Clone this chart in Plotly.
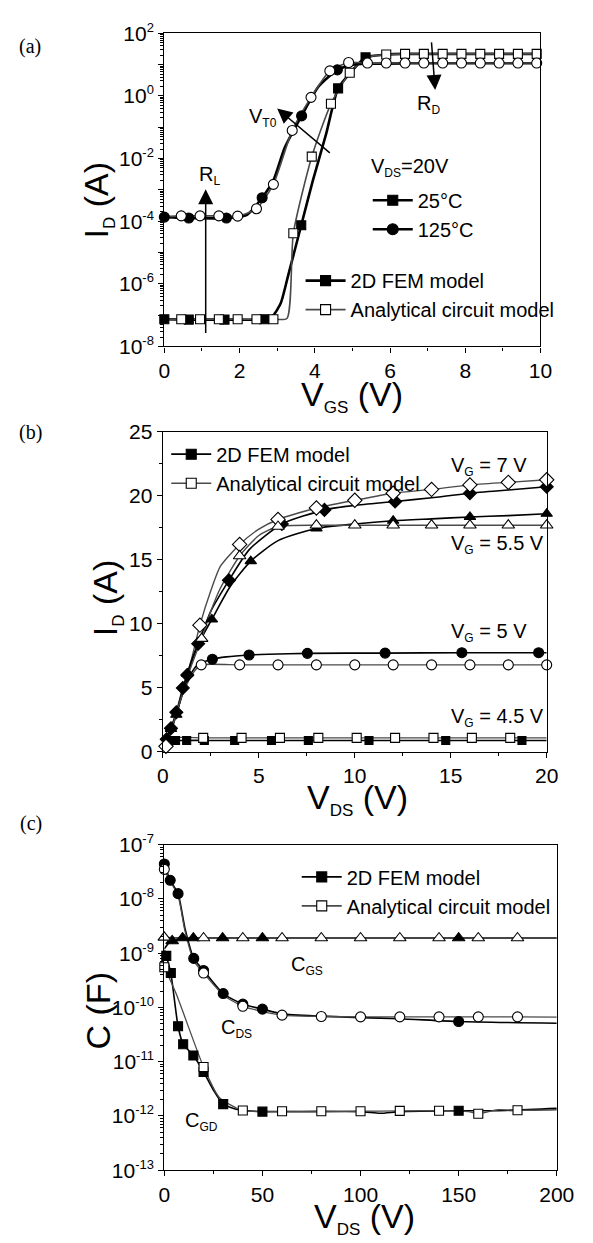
import plotly.graph_objects as go

W, H = 593, 1243
SANS = "Liberation Sans, Arial, Helvetica, sans-serif"
SERIF = "Liberation Serif, Times New Roman, serif"

# ---------------- Panel (a): I_D vs V_GS (V_DS = 20 V) ----------------
a_fem25_x = [0, 0.65, 1.6, 2.65, 2.9, 3.1, 3.3, 3.64, 3.95, 4.3, 4.62, 5.0, 5.35, 5.9, 6.4, 7.4, 8.4, 9.4, 10]
a_fem25_y = [7.4e-8, 7.2e-8, 7.2e-8, 7.4e-8, 1.0e-7, 2.5e-7, 2.0e-6, 7.4e-5, 2.0e-3, 6.0e-2, 1.74, 6.5, 17, 21, 22, 22, 22, 22, 22]
a_fem25_marks = [0, 1, 2, 3, 7, 10, 12]

a_ana25_x = [0, 0.45, 0.95, 1.45, 1.95, 2.45, 2.9, 3.26, 3.43, 3.92, 4.43, 4.93, 5.4, 5.9, 6.4, 6.9, 7.4, 7.9, 8.4, 8.9, 9.4, 9.9, 10]
a_ana25_y = [7.4e-8, 7.4e-8, 7.4e-8, 7.4e-8, 7.4e-8, 7.4e-8, 7.4e-8, 7.8e-8, 4.1e-5, 1.15e-2, 0.56, 5.5, 17, 21, 22, 22, 22, 22, 22, 22, 22, 22, 22]
a_ana25_marks = [1, 2, 3, 4, 5, 6, 8, 9, 10, 11, 13, 14, 15, 16, 17, 18, 19, 20, 21]

a_fem125_x = [0, 0.65, 1.65, 2.2, 2.6, 2.9, 3.2, 3.65, 4.1, 4.6, 5.0, 5.4, 6.4, 7.4, 8.4, 9.4, 10]
a_fem125_y = [1.35e-4, 1.26e-4, 1.26e-4, 1.6e-4, 5.6e-4, 2.0e-3, 2.2e-2, 0.23, 2.0, 6.8, 10, 10.7, 11, 11, 11, 11, 11]
a_fem125_marks = [0, 1, 2, 4, 7, 9]

a_ana125_x = [0, 0.45, 0.95, 1.45, 1.95, 2.45, 2.9, 3.4, 3.9, 4.4, 4.9, 5.4, 5.9, 6.4, 6.9, 7.4, 7.9, 8.4, 8.9, 9.4, 9.9, 10]
a_ana125_y = [1.4e-4, 1.48e-4, 1.48e-4, 1.48e-4, 1.45e-4, 2.5e-4, 1.5e-3, 7.9e-2, 0.9, 6.3, 11.7, 11.2, 11.2, 11.2, 11.2, 11.2, 11.2, 11.2, 11.2, 11.2, 11.2, 11.2]
a_ana125_marks = [1, 2, 3, 4, 5, 6, 7, 8, 9, 10, 11, 12, 13, 14, 15, 16, 17, 18, 19, 20]

a_ytick_vals = [1e-8, 1e-7, 1e-6, 1e-5, 1e-4, 1e-3, 1e-2, 1e-1, 1e0, 1e1, 1e2]
a_ytick_exp = ["-8", "", "-6", "", "-4", "", "-2", "", "0", "", "2"]

# ---------------- Panel (b): I_D vs V_DS ----------------
b7_fem_x = [0, 0.2, 0.42, 0.7, 1.04, 1.27, 1.84, 2.5, 3.44, 4.5, 6.2, 8.42, 10, 12.1, 14, 16, 18, 20]
b7_fem_y = [0.3, 1.0, 1.85, 3.1, 5.0, 6.0, 8.45, 11.0, 13.4, 15.8, 17.8, 18.9, 19.25, 19.55, 19.85, 20.2, 20.45, 20.7]
b7_fem_marks = [1, 2, 3, 4, 5, 6, 8, 10, 11, 13, 15, 17]

b7_ana_x = [0.16, 0.5, 1.0, 1.5, 1.93, 2.5, 3.0, 4.0, 5.0, 6.0, 8.0, 10, 12, 14, 16, 18, 20]
b7_ana_y = [0.44, 1.9, 4.6, 7.3, 9.9, 12.6, 14.5, 16.2, 17.4, 18.15, 19.05, 19.65, 20.2, 20.5, 20.85, 21.05, 21.25]
b7_ana_marks = [0, 4, 7, 9, 10, 11, 12, 13, 14, 15, 16]

b55_fem_x = [0, 0.2, 0.42, 0.7, 1.27, 1.8, 2.55, 3.5, 4.58, 6.0, 8.0, 10, 12, 14, 16, 18, 20]
b55_fem_y = [0.3, 0.95, 1.8, 2.9, 6.1, 8.3, 10.35, 12.9, 14.9, 16.5, 17.45, 17.8, 18.05, 18.2, 18.35, 18.45, 18.6]
b55_fem_marks = [2, 3, 4, 6, 8, 10, 12, 14, 16]

b55_ana_x = [0.16, 0.5, 1.0, 1.5, 2.02, 2.5, 3.0, 4.0, 5.0, 6.0, 8, 10, 12, 14, 16, 18, 20]
b55_ana_y = [0.3, 1.9, 4.4, 6.8, 8.85, 11.0, 12.8, 15.3, 16.9, 17.6, 17.7, 17.7, 17.7, 17.7, 17.7, 17.7, 17.7]
b55_ana_marks = [4, 7, 9, 10, 11, 12, 13, 14, 15, 16]

b5_fem_x = [0, 0.3, 0.7, 1.27, 1.8, 2.58, 3.3, 4.49, 5.5, 7.53, 11.58, 15.58, 19.58, 20]
b5_fem_y = [0.3, 1.3, 3.0, 5.6, 6.8, 7.24, 7.42, 7.57, 7.63, 7.7, 7.72, 7.75, 7.75, 7.75]
b5_fem_marks = [5, 7, 9, 10, 11, 12]

b5_ana_x = [0.16, 0.5, 1.0, 1.5, 1.75, 2.0, 4, 6, 8, 10, 12, 14, 16, 18, 20]
b5_ana_y = [0.3, 2.0, 4.4, 6.0, 6.5, 6.8, 6.8, 6.8, 6.8, 6.8, 6.8, 6.8, 6.8, 6.8, 6.8]
b5_ana_marks = [5, 6, 7, 8, 9, 10, 11, 12, 13, 14]

b45_fem_x = [0, 0.15, 0.33, 0.66, 1.24, 2.16, 3.74, 5.66, 7.58, 10.74, 14.74, 18.71, 20]
b45_fem_y = [0.3, 0.7, 0.88, 0.89, 0.9, 0.9, 0.9, 0.9, 0.9, 0.9, 0.9, 0.9, 0.9]
b45_fem_marks = [2, 3, 4, 5, 6, 7, 8, 9, 10, 11]

b45_ana_x = [0.16, 0.3, 0.5, 2.1, 4.1, 6.1, 8.1, 10.1, 12.1, 14.1, 16.1, 18.1, 20]
b45_ana_y = [0.3, 0.8, 1.1, 1.1, 1.1, 1.1, 1.1, 1.1, 1.1, 1.1, 1.1, 1.1, 1.1]
b45_ana_marks = [3, 4, 5, 6, 7, 8, 9, 10, 11]

# ---------------- Panel (c): capacitances vs V_DS ----------------
c_gs_fem_x = [0, 2, 4, 6, 9.3, 14.8, 29.7, 50, 150, 200]
c_gs_fem_y = [1.2e-9, 1.5e-9, 1.68e-9, 1.8e-9, 1.9e-9, 1.9e-9, 1.9e-9, 1.9e-9, 1.9e-9, 1.9e-9]
c_gs_fem_marks = [2, 4, 5, 6, 7, 8]

c_gs_ana_x = [0, 20, 40, 60, 80, 100, 120, 140, 160, 180, 200]
c_gs_ana_y = [1.95e-9, 1.9e-9, 1.9e-9, 1.9e-9, 1.9e-9, 1.9e-9, 1.9e-9, 1.9e-9, 1.9e-9, 1.9e-9, 1.9e-9]
c_gs_ana_marks = [0, 1, 2, 3, 4, 5, 6, 7, 8, 9]

c_ds_fem_x = [0, 3, 7, 10.5, 15, 20, 30, 40, 50, 60, 80, 100, 120, 150, 200]
c_ds_fem_y = [4.4e-8, 2.2e-8, 1.25e-8, 2.9e-9, 8.0e-10, 4.8e-10, 1.8e-10, 1.15e-10, 9.3e-11, 7.6e-11, 6.9e-11, 6.5e-11, 6.2e-11, 5.5e-11, 5.1e-11]
c_ds_fem_marks = [0, 1, 2, 4, 5, 6, 7, 8, 13]

c_ds_ana_x = [0, 3, 7, 10.5, 15, 20, 30, 40, 60, 80, 100, 120, 140, 160, 180, 200]
c_ds_ana_y = [3.5e-8, 2.1e-8, 1.15e-8, 2.6e-9, 7.2e-10, 4.3e-10, 1.7e-10, 1.05e-10, 7.2e-11, 6.8e-11, 6.7e-11, 6.7e-11, 6.7e-11, 6.7e-11, 6.7e-11, 6.6e-11]
c_ds_ana_marks = [0, 5, 7, 8, 9, 10, 11, 12, 13, 14]

c_gd_fem_x = [0, 1, 3.3, 7, 9.6, 14.8, 20, 25, 30, 38, 50, 100, 110, 120, 150, 170, 200]
c_gd_fem_y = [1.15e-9, 8.9e-10, 4.3e-10, 4.5e-11, 2.1e-11, 1.3e-11, 6.5e-12, 3.0e-12, 1.65e-12, 1.3e-12, 1.2e-12, 1.2e-12, 1.12e-12, 1.2e-12, 1.25e-12, 1.25e-12, 1.38e-12]
c_gd_fem_marks = [1, 2, 3, 4, 5, 6, 8, 10, 14]

c_gd_ana_x = [0, 6, 20, 28, 40, 60, 80, 100, 120, 140, 155, 160, 170, 180, 200]
c_gd_ana_y = [5.5e-10, 1.8e-10, 8.0e-12, 2.2e-12, 1.26e-12, 1.22e-12, 1.22e-12, 1.22e-12, 1.24e-12, 1.25e-12, 1.2e-12, 1.1e-12, 1.3e-12, 1.27e-12, 1.3e-12]
c_gd_ana_marks = [0, 2, 4, 5, 6, 7, 8, 9, 11, 13]

c_ytick_vals = [1e-13, 1e-12, 1e-11, 1e-10, 1e-9, 1e-8, 1e-7]
c_ytick_exp = ["-13", "-12", "-11", "-10", "-9", "-8", "-7"]

# ---------------- helpers ----------------
def fx(p):
    return p / W


def fy(p):
    return 1 - p / H


def pow_label(e):
    if e == "":
        return ""
    return "10<sup><span style='font-size:13px'>%s</span></sup>" % e


fig = go.Figure()

FEM_COLOR = "black"
ANA_COLOR = "#4a4a4a"

series = [
    # (x, y, marks, axis suffix, symbol, filled, line width, marker size)
    (a_fem25_x, a_fem25_y, a_fem25_marks, "", "square", True, 2.6, 9),
    (a_ana25_x, a_ana25_y, a_ana25_marks, "", "square", False, 1.6, 9),
    (a_fem125_x, a_fem125_y, a_fem125_marks, "", "circle", True, 2.6, 10),
    (a_ana125_x, a_ana125_y, a_ana125_marks, "", "circle", False, 1.6, 10),
    (b7_fem_x, b7_fem_y, b7_fem_marks, "2", "diamond", True, 1.6, 10),
    (b7_ana_x, b7_ana_y, b7_ana_marks, "2", "diamond", False, 1.4, 11),
    (b55_fem_x, b55_fem_y, b55_fem_marks, "2", "triangle-up", True, 1.6, 10),
    (b55_ana_x, b55_ana_y, b55_ana_marks, "2", "triangle-up", False, 1.4, 11),
    (b5_fem_x, b5_fem_y, b5_fem_marks, "2", "circle", True, 1.6, 10),
    (b5_ana_x, b5_ana_y, b5_ana_marks, "2", "circle", False, 1.4, 10),
    (b45_fem_x, b45_fem_y, b45_fem_marks, "2", "square", True, 1.6, 8),
    (b45_ana_x, b45_ana_y, b45_ana_marks, "2", "square", False, 1.4, 9),
    (c_gs_fem_x, c_gs_fem_y, c_gs_fem_marks, "3", "triangle-up", True, 1.6, 11),
    (c_gs_ana_x, c_gs_ana_y, c_gs_ana_marks, "3", "triangle-up", False, 1.3, 11),
    (c_ds_fem_x, c_ds_fem_y, c_ds_fem_marks, "3", "circle", True, 1.6, 10),
    (c_ds_ana_x, c_ds_ana_y, c_ds_ana_marks, "3", "circle", False, 1.3, 10),
    (c_gd_fem_x, c_gd_fem_y, c_gd_fem_marks, "3", "square", True, 1.6, 9),
    (c_gd_ana_x, c_gd_ana_y, c_gd_ana_marks, "3", "square", False, 1.3, 9),
]

# lines first
for x, y, marks, ax, sym, filled, lw, ms in series:
    fig.add_trace(go.Scatter(
        x=x, y=y, mode="lines", xaxis="x" + ax, yaxis="y" + ax,
        line=dict(color=FEM_COLOR if filled else ANA_COLOR, width=lw, shape="spline", smoothing=0.6),
        showlegend=False, hoverinfo="skip"))

# filled markers, then open markers on top
for want_filled in (True, False):
    for x, y, marks, ax, sym, filled, lw, ms in series:
        if filled != want_filled:
            continue
        fig.add_trace(go.Scatter(
            x=[x[i] for i in marks], y=[y[i] for i in marks], mode="markers",
            xaxis="x" + ax, yaxis="y" + ax, cliponaxis=False,
            marker=dict(symbol=sym, size=ms, color="black" if filled else "white",
                        line=dict(color="black", width=1.1)),
            showlegend=False, hoverinfo="skip"))


# legend entries
def legend_entry(name, legend, sym, filled, lw, ms):
    fig.add_trace(go.Scatter(
        x=[None], y=[None], mode="lines+markers", name=name, legend=legend,
        line=dict(color=FEM_COLOR if filled else ANA_COLOR, width=lw),
        marker=dict(symbol=sym, size=ms, color="black" if filled else "white",
                    line=dict(color="black", width=1.1)),
        hoverinfo="skip"))


legend_entry("25°C", "legend", "square", True, 2.6, 10)
legend_entry("125°C", "legend", "circle", True, 2.6, 11)
legend_entry("2D FEM model", "legend2", "square", True, 2.6, 10)
legend_entry("Analytical circuit model", "legend2", "square", False, 1.6, 10)
legend_entry("2D FEM model", "legend3", "square", True, 1.8, 10)
legend_entry("Analytical circuit model", "legend3", "square", False, 1.6, 10)
legend_entry("2D FEM model", "legend4", "square", True, 1.8, 10)
legend_entry("Analytical circuit model", "legend4", "square", False, 1.6, 10)


def axis(domain, **kw):
    d = dict(domain=domain, showline=True, linecolor="black", linewidth=1.4, mirror=True,
             ticks="outside", ticklen=5, tickwidth=1.2, tickcolor="black",
             showgrid=False, zeroline=False,
             tickfont=dict(family=SANS, size=21, color="black"),
             minor=dict(ticks="outside", ticklen=3, tickwidth=1, tickcolor="black", showgrid=False))
    d.update(kw)
    return d


def lin_minor(step):
    return dict(ticks="outside", ticklen=3, tickwidth=1, tickcolor="black", dtick=step, showgrid=False)


def leg(xp, yp):
    return dict(x=fx(xp), y=fy(yp), xanchor="left", yanchor="top", bgcolor="rgba(0,0,0,0)",
                borderwidth=0, font=dict(family=SANS, size=20, color="black"),
                itemwidth=40, tracegroupgap=0, itemclick=False, itemdoubleclick=False)


ax_a = [fx(165), fx(557)]
ay_a = [fy(340), fy(20.7)]
ax_b = [fx(163.5), fx(563.5)]
ay_b = [fy(753.5), fy(427)]
ax_c = [fx(165), fx(574)]
ay_c = [fy(1180), fy(848)]

minor_log = dict(ticks="outside", ticklen=3, tickwidth=1, tickcolor="black", dtick="D1", showgrid=False)

annotations = []


def text_ann(text, x, y, xref, yref, size=20, xanchor="center", yanchor="middle", angle=0, family=SANS):
    annotations.append(dict(text=text, x=x, y=y, xref=xref, yref=yref, showarrow=False,
                            xanchor=xanchor, yanchor=yanchor, textangle=angle,
                            font=dict(family=family, size=size, color="black")))


def sub(s, size=14):
    return "<sub><span style='font-size:%dpx'>%s</span></sub>" % (size, s)


# panel labels
text_ann("(a)", fx(25), fy(34), "paper", "paper", size=20, family=SERIF)
text_ann("(b)", fx(26), fy(428), "paper", "paper", size=20, family=SERIF)
text_ann("(c)", fx(26), fy(826), "paper", "paper", size=20, family=SERIF)

# axis titles
text_ann("V" + sub("GS", 17) + " (V)", fx(361), fy(367), "paper", "paper", size=34, yanchor="top")
text_ann("V" + sub("DS", 17) + " (V)", fx(366), fy(778), "paper", "paper", size=34, yanchor="top")
text_ann("V" + sub("DS", 17) + " (V)", fx(374), fy(1205), "paper", "paper", size=34, yanchor="top")
text_ann("I" + sub("D", 17) + " (A)", fx(96), fy(191), "paper", "paper", size=34, angle=-90)
text_ann("I" + sub("D", 17) + " (A)", fx(106), fy(596), "paper", "paper", size=34, angle=-90)
text_ann("C (F)", fx(96), fy(1018), "paper", "paper", size=34, angle=-90)

# panel (a) texts
text_ann("V" + sub("DS", 12) + "=20V", 5.45, -2.28, "x", "y", xanchor="left")
text_ann("R" + sub("L", 12), 1.2, -2.55, "x", "y")
text_ann("V" + sub("T0", 12), 2.62, -0.68, "x", "y")
text_ann("R" + sub("D", 12), 7.02, -0.28, "x", "y")

# panel (b) texts
text_ann("V" + sub("G", 12) + " = 7 V", 14.9, 22.3, "x2", "y2", xanchor="left")
text_ann("V" + sub("G", 12) + " = 5.5 V", 14.9, 16.2, "x2", "y2", xanchor="left")
text_ann("V" + sub("G", 12) + " = 5 V", 14.9, 9.3, "x2", "y2", xanchor="left")
text_ann("V" + sub("G", 12) + " = 4.5 V", 14.9, 2.67, "x2", "y2", xanchor="left")

# panel (c) texts
text_ann("C" + sub("GS", 12), 72.5, -9.23, "x3", "y3")
text_ann("C" + sub("DS", 12), 37, -10.38, "x3", "y3")
text_ann("C" + sub("GD", 12), 19, -12.1, "x3", "y3")

# arrows in panel (a): (head x, head log y, tail x, tail log y)
arrow_heads = [(1.1, -2.98, 1.1, -7.62), (3.0, -0.4, 4.44, -1.86), (7.2, 0.19, 7.1, 1.76)]
for hx, hy, tx, ty in arrow_heads:
    annotations.append(dict(x=hx, y=hy, ax=tx, ay=ty, xref="x", yref="y", axref="x", ayref="y",
                            text="", showarrow=True, arrowhead=2, arrowsize=2.0, arrowwidth=1.5,
                            arrowcolor="black", standoff=0))

fig.update_layout(
    width=W, height=H, margin=dict(l=0, r=0, t=0, b=0),
    paper_bgcolor="white", plot_bgcolor="white",
    font=dict(family=SANS, color="black"),
    xaxis=axis(ax_a, anchor="y", range=[0, 10], dtick=2, tick0=0, minor=lin_minor(1)),
    yaxis=axis(ay_a, anchor="x", type="log", range=[-8, 2], tickmode="array",
               tickvals=a_ytick_vals, ticktext=[pow_label(e) for e in a_ytick_exp], minor=minor_log),
    xaxis2=axis(ax_b, anchor="y2", range=[0, 20], dtick=5, tick0=0, minor=lin_minor(2.5)),
    yaxis2=axis(ay_b, anchor="x2", range=[0, 25], dtick=5, tick0=0, minor=lin_minor(2.5)),
    xaxis3=axis(ax_c, anchor="y3", range=[0, 200], dtick=50, tick0=0, minor=lin_minor(25)),
    yaxis3=axis(ay_c, anchor="x3", type="log", range=[-13, -7], tickmode="array",
                tickvals=c_ytick_vals, ticktext=[pow_label(e) for e in c_ytick_exp], minor=minor_log),
    legend=leg(377, 171),
    legend2=leg(307, 253),
    legend3=leg(167, 430),
    legend4=leg(303, 861),
    annotations=annotations,
    showlegend=True,
)

fig.write_html("out.html")
